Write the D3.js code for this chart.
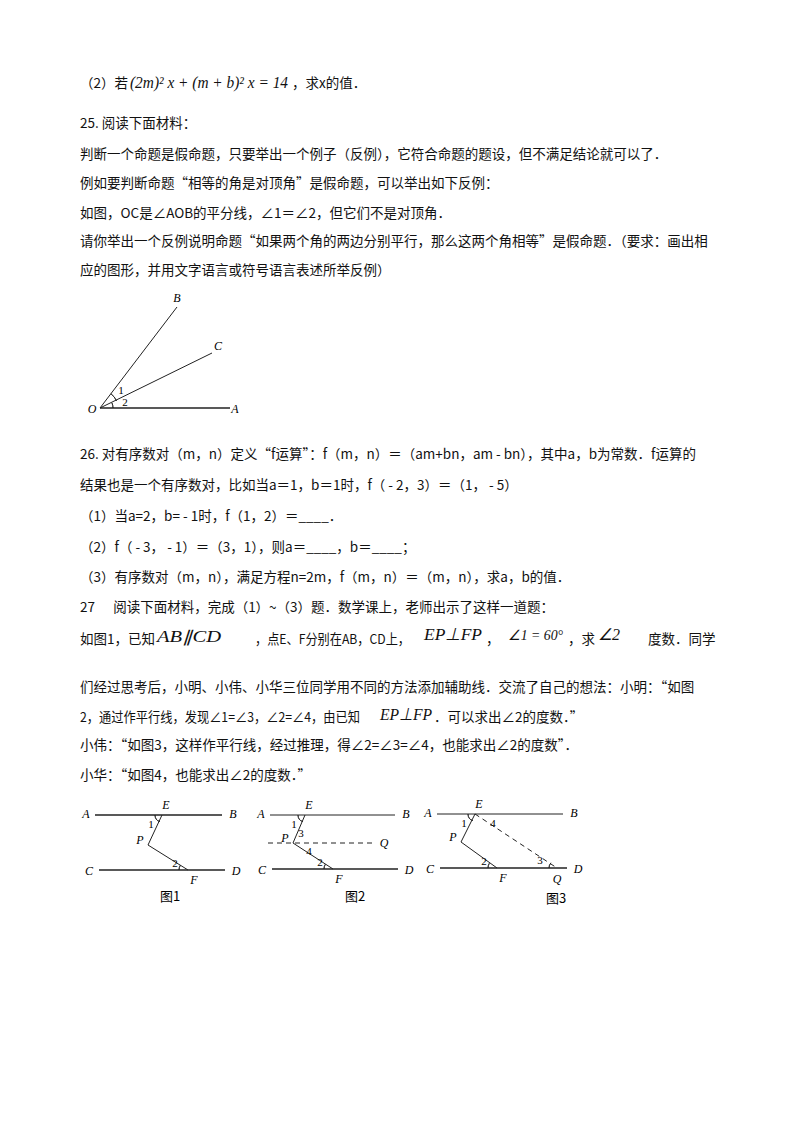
<!DOCTYPE html><html><head><meta charset="utf-8"><script src="https://cdn.jsdelivr.net/npm/d3@7"></script>
<style>body{margin:0;background:#fff} text{white-space:pre}</style></head><body><script>
const lines=[
 {y:128,t:"25. 阅读下面材料：",x:80},
 {y:159,t:"判断一个命题是假命题，只要举出一个例子（反例），它符合命题的题设，但不满足结论就可以了．",x:80},
 {y:188,t:"例如要判断命题“相等的角是对顶角”是假命题，可以举出如下反例：",x:80},
 {y:218,t:"如图，OC是∠AOB的平分线，∠1＝∠2，但它们不是对顶角．",x:80},
 {y:246,t:"请你举出一个反例说明命题“如果两个角的两边分别平行，那么这两个角相等”是假命题．（要求：画出相",x:80},
 {y:275,t:"应的图形，并用文字语言或符号语言表述所举反例）",x:80},
 {y:459,t:"26. 对有序数对（m，n）定义“f运算”：f（m，n）＝（am+bn，am - bn），其中a，b为常数．f运算的",x:80},
 {y:490,t:"结果也是一个有序数对，比如当a＝1，b＝1时，f（ - 2，3）＝（1， - 5）",x:80},
 {y:521,t:"（1）当a=2，b= - 1时，f（1，2）＝____．",x:80},
 {y:552,t:"（2）f（ - 3， - 1）＝（3，1），则a＝____，b＝____；",x:80},
 {y:582,t:"（3）有序数对（m，n），满足方程n=2m，f（m，n）＝（m，n），求a，b的值．",x:80},
 {y:612,t:"27      阅读下面材料，完成（1）~（3）题．数学课上，老师出示了这样一道题：",x:80},
 {y:692,t:"们经过思考后，小明、小伟、小华三位同学用不同的方法添加辅助线．交流了自己的想法：小明：“如图",x:80},
 {y:750,t:"小伟：“如图3，这样作平行线，经过推理，得∠2=∠3=∠4，也能求出∠2的度数”．",x:80},
 {y:780,t:"小华：“如图4，也能求出∠2的度数．”",x:80}
];
const rich=[
 [{x:80,y:88,t:"（2）若",c:1},{x:130,y:88,t:"(2m)² x + (m + b)² x = 14",s:16,w:158},{x:292,y:88,t:"，求x的值．",c:1}],
 [{x:80,y:644,t:"如图1，已知",c:1},{x:157,y:642,t:"AB∥CD",s:16,w:64},{x:255,y:644,t:"，点E、F分别在AB，CD上，",c:1,w:155},
  {x:424,y:640,t:"EP⊥FP",s:17,w:58},{x:486,y:644,t:"，",c:1},{x:508,y:640,t:"∠1 = 60°",s:14,w:55},
  {x:568,y:644,t:"，求",c:1},{x:598,y:640,t:"∠2",s:16,w:22},{x:648,y:644,t:"度数．同学",c:1}],
 [{x:80,y:722,t:"2，通过作平行线，发现∠1=∠3，∠2=∠4，由已知",c:1,w:280},{x:380,y:720,t:"EP⊥FP",s:17,w:52},{x:434,y:722,t:"．可以求出∠2的度数．”",c:1}]
];
const fig25={O:[100,408],A:[230,408],B:[177,307],C:[212,353]};
const figs=[
 {A:[95,815],B:[222,815],C:[99,870],D:[225,870],E:[162,815],P:[148,845],F:[188,870],cap:"图1",cx:170,cy:901},
 {A:[270,815],B:[395,815],C:[272,869],D:[398,869],E:[305,815],P:[293,843],F:[333,869],Q:[375,843],dq:[268,843],cap:"图2",cx:355,cy:901},
 {A:[437,814],B:[563,814],C:[440,868],D:[567,868],E:[475,814],P:[461,842],F:[497,868],Q:[557,868],dashEQ:1,cap:"图3",cx:556,cy:903}
];
const svg=d3.select("body").append("svg").attr("width",800).attr("height",1132);
const cjk="'Noto Sans CJK SC',sans-serif", ser="'Liberation Serif',serif";
svg.selectAll("text.l").data(lines).join("text").attr("x",d=>d.x).attr("y",d=>d.y).text(d=>d.t)
 .attr("xml:space","preserve").style("font-family",cjk).style("font-size","13.5px").attr("fill","#111");
rich.flat().forEach(d=>{
 const t=svg.append("text").attr("x",d.x).attr("y",d.y).text(d.t).attr("fill","#111")
  .style("font-family",d.c?cjk:ser).style("font-style",d.c?"normal":"italic").style("font-size",(d.s||13.5)+"px");
 if(d.w)t.attr("textLength",d.w).attr("lengthAdjust","spacingAndGlyphs");
});
const ln=(a,b,w=1,dash)=>svg.append("line").attr("x1",a[0]).attr("y1",a[1]).attr("x2",b[0]).attr("y2",b[1]).attr("stroke","#222").attr("stroke-width",w).attr("stroke-dasharray",dash||null);
const lab=(t,x,y,s=12,it=1)=>svg.append("text").attr("x",x).attr("y",y).text(t).style("font-family",ser).style("font-style",it?"italic":"normal").style("font-size",s+"px").attr("text-anchor","middle");
const arc=(c,r,a0,a1)=>svg.append("path").attr("d",d3.arc()({innerRadius:r,outerRadius:r,startAngle:a0,endAngle:a1})).attr("transform",`translate(${c})`).attr("fill","none").attr("stroke","#222").attr("stroke-width",0.8);
const f=fig25;
ln(f.O,f.A,1.4);ln(f.O,f.B);ln(f.O,f.C);
lab("O",f.O[0]-8,f.O[1]+5);lab("A",f.A[0]+5,f.A[1]+5);lab("B",f.B[0],f.B[1]-5);lab("C",f.C[0]+6,f.C[1]-3);
arc(f.O,18,Math.PI/2-0.92,Math.PI/2-0.4);arc(f.O,13,Math.PI/2-0.4,Math.PI/2);
lab("1",f.O[0]+21,f.O[1]-14,11,0);lab("2",f.O[0]+25,f.O[1]-2,11,0);
figs.forEach((g,i)=>{
 ln(g.A,g.B,i?1:1.5);ln(g.C,g.D,i?1.5:1.4);ln(g.E,g.P);ln(g.P,g.F);
 lab("A",g.A[0]-9,g.A[1]+3);lab("B",g.B[0]+11,g.B[1]+3);lab("C",g.C[0]-10,g.C[1]+5);lab("D",g.D[0]+11,g.D[1]+5);
 lab("E",g.E[0]+4,g.E[1]-6);lab("P",g.P[0]-8,g.P[1]-1);lab("F",g.F[0]+6,g.F[1]+14);
 lab("1",g.E[0]-11,g.E[1]+13,11,0);lab("2",g.F[0]-13,g.F[1]-3,11,0);
 arc(g.E,7,Math.PI*1.1,Math.PI*1.5);arc(g.F,9,-Math.PI/2,-Math.PI/2+0.55);
 if(g.dq){ln(g.dq,g.Q,1,"5,4");lab("Q",g.Q[0]+9,g.Q[1]+4);lab("3",g.P[0]+8,g.P[1]-6,11,0);lab("4",g.P[0]+16,g.P[1]+12,11,0);}
 if(g.dashEQ){ln(g.E,g.Q,1,"5,4");lab("Q",g.Q[0],g.Q[1]+15);lab("4",g.E[0]+18,g.E[1]+13,11,0);lab("3",g.Q[0]-17,g.Q[1]-4,11,0);arc(g.Q,8,-Math.PI/2,-Math.PI/2+0.7);}
 svg.append("text").attr("x",g.cx).attr("y",g.cy).text(g.cap).style("font-family",cjk).style("font-size","13px").attr("text-anchor","middle");
});
</script></body></html>
